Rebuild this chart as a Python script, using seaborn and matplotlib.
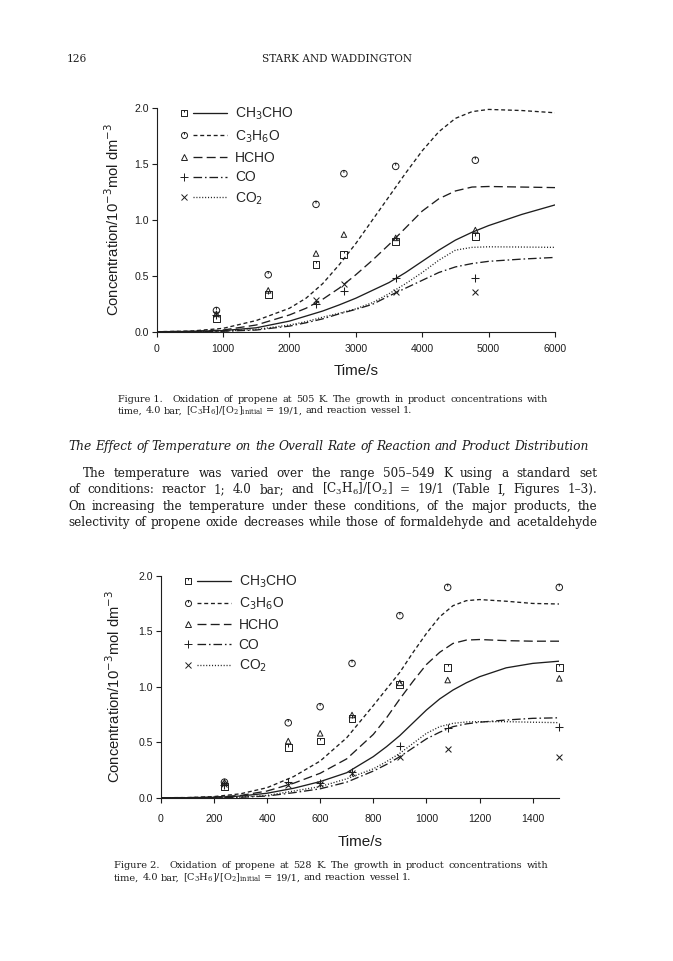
import numpy as np
import pandas as pd
import matplotlib
matplotlib.use("Agg")
import matplotlib.pyplot as plt
import seaborn as sns
from matplotlib.lines import Line2D
from matplotlib.path import Path
from matplotlib.legend_handler import HandlerBase
from matplotlib.ticker import FormatStrFormatter

# ------------------------------------------------------------------ data
species = ["CH3CHO", "C3H6O", "HCHO", "CO", "CO2"]
species_labels = ["CH$_3$CHO", "C$_3$H$_6$O", "HCHO", "CO", "CO$_2$"]

# Figure 1 (505 K): measured points
f1_t_pts = [900, 1680, 2400, 2820, 3600, 4800]
f1_ch3cho_pts = [0.12, 0.33, 0.60, 0.69, 0.81, 0.85]
f1_c3h6o_pts = [0.19, 0.51, 1.14, 1.415, 1.48, 1.535]
f1_hcho_pts = [0.16, 0.37, 0.70, 0.87, 0.84, 0.91]
f1_co_pts = [0.15, np.nan, 0.245, 0.36, 0.48, 0.485]
f1_co2_pts = [0.16, np.nan, 0.285, 0.43, 0.355, 0.355]

# Figure 1: model curves
f1_t_fit = [0, 500, 1000, 1500, 2000, 2250, 2500, 2750, 3000, 3250, 3500,
            3750, 4000, 4250, 4500, 4750, 5000, 5500, 6000]
f1_ch3cho_fit = [0, 0.002, 0.01, 0.035, 0.095, 0.14, 0.185, 0.24, 0.30, 0.37,
                 0.44, 0.53, 0.63, 0.73, 0.82, 0.89, 0.95, 1.05, 1.135]
f1_c3h6o_fit = [0, 0.005, 0.03, 0.10, 0.21, 0.30, 0.43, 0.60, 0.79, 1.00,
                1.21, 1.42, 1.62, 1.79, 1.91, 1.97, 1.99, 1.98, 1.96]
f1_hcho_fit = [0, 0.003, 0.015, 0.06, 0.15, 0.21, 0.29, 0.39, 0.51, 0.64,
               0.78, 0.93, 1.08, 1.19, 1.26, 1.295, 1.30, 1.295, 1.29]
f1_co_fit = [0, 0.001, 0.004, 0.015, 0.05, 0.08, 0.115, 0.16, 0.20, 0.245,
             0.32, 0.39, 0.46, 0.53, 0.58, 0.61, 0.63, 0.65, 0.665]
f1_co2_fit = [0, 0.001, 0.005, 0.02, 0.06, 0.09, 0.13, 0.165, 0.205, 0.26,
              0.34, 0.43, 0.53, 0.64, 0.73, 0.755, 0.76, 0.758, 0.755]

# Figure 2 (528 K): measured points
f2_t_pts = [240, 480, 600, 720, 900, 1080, 1500]
f2_ch3cho_pts = [0.10, 0.45, 0.51, 0.71, 1.02, 1.175, 1.175]
f2_c3h6o_pts = [0.14, 0.675, 0.82, 1.21, 1.64, 1.895, 1.895]
f2_hcho_pts = [0.14, 0.51, 0.58, 0.745, 1.035, 1.06, 1.075]
f2_co_pts = [0.11, 0.145, 0.13, 0.235, 0.465, 0.625, 0.64]
f2_co2_pts = [0.12, 0.115, 0.125, 0.225, 0.37, 0.44, 0.37]

# Figure 2: model curves
f2_t_fit = [0, 100, 200, 300, 400, 500, 600, 700, 800, 850, 900, 950, 1000,
            1050, 1100, 1150, 1200, 1300, 1400, 1500]
f2_ch3cho_fit = [0, 0.0, 0.003, 0.015, 0.04, 0.085, 0.145, 0.225, 0.37, 0.46,
                 0.56, 0.675, 0.79, 0.89, 0.97, 1.035, 1.09, 1.17, 1.21, 1.23]
f2_c3h6o_fit = [0, 0.001, 0.01, 0.035, 0.09, 0.19, 0.33, 0.54, 0.83, 0.98,
                1.13, 1.31, 1.48, 1.63, 1.73, 1.775, 1.785, 1.77, 1.75, 1.745]
f2_hcho_fit = [0, 0.001, 0.005, 0.02, 0.06, 0.13, 0.22, 0.35, 0.57, 0.72,
               0.89, 1.05, 1.20, 1.31, 1.39, 1.42, 1.425, 1.415, 1.41, 1.41]
f2_co_fit = [0, 0.0, 0.001, 0.004, 0.015, 0.045, 0.08, 0.14, 0.24, 0.30,
             0.37, 0.45, 0.53, 0.59, 0.64, 0.665, 0.68, 0.70, 0.715, 0.72]
f2_co2_fit = [0, 0.0, 0.002, 0.006, 0.02, 0.06, 0.10, 0.17, 0.26, 0.325,
              0.40, 0.49, 0.58, 0.64, 0.67, 0.682, 0.685, 0.685, 0.68, 0.676]

f1_xticks = [0, 1000, 2000, 3000, 4000, 5000, 6000]
f2_xticks = [0, 200, 400, 600, 800, 1000, 1200, 1400]
yticks = [0.0, 0.5, 1.0, 1.5, 2.0]

caption1 = ["Figure\u00a01.", "Oxidation of propene at 505 K. The growth in product concentrations with",
            "time, 4.0 bar, [C$_3$H$_6$]/[O$_2$]$_{\\mathrm{initial}}$ = 19/1, and reaction vessel 1."]
caption2 = ["Figure\u00a02.", "Oxidation of propene at 528 K. The growth in product concentrations with",
            "time, 4.0 bar, [C$_3$H$_6$]/[O$_2$]$_{\\mathrm{initial}}$ = 19/1, and reaction vessel 1."]
heading = "The Effect of Temperature on the Overall Rate of Reaction and Product Distribution"
paragraph = [
    "The temperature was varied over the range 505\u2013549 K using a standard set",
    "of conditions: reactor 1; 4.0 bar; and [C$_3$H$_6$]/[O$_2$] = 19/1 (Table I, Figures 1\u20133).",
    "On increasing the temperature under these conditions, of the major products, the",
    "selectivity of propene oxide decreases while those of formaldehyde and acetaldehyde",
]
page_no = "126"
running_head = "STARK AND WADDINGTON"

# ------------------------------------------------------------------ style
sns.set_theme(style="ticks")
plt.rcParams["font.family"] = ["Liberation Sans", "DejaVu Sans"]
plt.rcParams["axes.linewidth"] = 0.8

INK = "#1e1e1e"
SERIF = "DejaVu Serif"

sq_marker = Path([(-1, -1), (1, -1), (1, 1), (-1, 1), (-1, -1), (0, 1), (0, 0.35)],
                 [Path.MOVETO, Path.LINETO, Path.LINETO, Path.LINETO, Path.CLOSEPOLY,
                  Path.MOVETO, Path.LINETO])
circ_marker = Path.make_compound_path(Path.unit_circle(),
                                      Path([(0, 1), (0, 0.25)], [Path.MOVETO, Path.LINETO]))

styles = {
    "CH3CHO": dict(ls="-", marker=sq_marker, s=24, ms=4.6, filled=True),
    "C3H6O": dict(ls=(0, (3.0, 2.1)), marker=circ_marker, s=22, ms=4.4, filled=True),
    "HCHO": dict(ls=(0, (6.8, 3.2)), marker="^", s=16, ms=3.8, filled=True),
    "CO": dict(ls=(0, (6.5, 2.2, 1.2, 2.2)), marker="+", s=30, ms=5.4, filled=False),
    "CO2": dict(ls=(0, (0.8, 1.4)), marker="x", s=18, ms=4.0, filled=False),
}

W, H = 673, 961
fig = plt.figure(figsize=(W / 100, H / 100), dpi=100)
fig.patch.set_facecolor("white")


def px_rect(l, t, r, b):
    return [l / W, 1 - b / H, (r - l) / W, (b - t) / H]


class MarkerThenLine(HandlerBase):
    def __init__(self, spec):
        super().__init__()
        self.spec = spec

    def create_artists(self, legend, orig_handle, xdescent, ydescent, width, height,
                       fontsize, trans):
        sp = self.spec
        x0 = -xdescent
        y = (height - ydescent) / 2.0
        ln = Line2D([x0 + 0.29 * width, x0 + width], [y, y], color=INK, lw=0.95,
                    linestyle=sp["ls"])
        if sp["filled"]:
            mk = Line2D([x0 + 0.10 * width], [y], linestyle="none", marker=sp["marker"],
                        ms=sp["ms"], mfc="none", mec=INK, mew=0.7)
        else:
            mk = Line2D([x0 + 0.10 * width], [y], linestyle="none", marker=sp["marker"],
                        ms=sp["ms"], color=INK, mew=0.7)
        ln.set_transform(trans)
        mk.set_transform(trans)
        return [mk, ln]


def draw_panel(ax, t_fit, fits, t_pts, pts, xmax, xticks, xpad, xlabelpad, ylabelpad, anchor):
    for key in species:
        sp = styles[key]
        sns.lineplot(x=t_fit, y=fits[key], ax=ax, color=INK, lw=0.95,
                     linestyle=sp["ls"], legend=False)
    for key in species:
        sp = styles[key]
        y = pd.Series(pts[key], dtype=float)
        if sp["filled"]:
            sns.scatterplot(x=t_pts, y=y, ax=ax, marker=sp["marker"], s=sp["s"],
                            facecolor="none", edgecolor=INK, linewidth=0.7,
                            clip_on=False, zorder=4, legend=False)
        else:
            sns.scatterplot(x=t_pts, y=y, ax=ax, marker=sp["marker"], s=sp["s"],
                            color=INK, linewidth=0.75, clip_on=False, zorder=4,
                            legend=False)
    ax.set_xlim(0, xmax)
    ax.set_ylim(0, 2.0)
    ax.set_xticks(xticks)
    ax.set_yticks(yticks)
    ax.yaxis.set_major_formatter(FormatStrFormatter("%.1f"))
    sns.despine(ax=ax)
    for s in ("left", "bottom"):
        ax.spines[s].set_color(INK)
        ax.spines[s].set_linewidth(0.8)
    ax.tick_params(axis="both", direction="out", length=3.5, width=0.8,
                   color=INK, labelcolor=INK, labelsize=7.6)
    ax.tick_params(axis="y", pad=2.2)
    ax.tick_params(axis="x", pad=xpad)
    ax.set_facecolor("white")
    ax.set_xlabel("Time/s", fontsize=11, color=INK, labelpad=xlabelpad)
    ax.set_ylabel("Concentration/10$^{-3}$mol dm$^{-3}$", fontsize=10.6, color=INK,
                  labelpad=ylabelpad)
    proxies = [Line2D([], []) for _ in species]
    hmap = {p: MarkerThenLine(styles[k]) for p, k in zip(proxies, species)}
    ax.legend(proxies, species_labels, handler_map=hmap, loc="upper left",
              bbox_to_anchor=anchor, frameon=False, fontsize=10,
              handlelength=3.46, handletextpad=0.55, labelspacing=0.42,
              borderpad=0, borderaxespad=0)


ax1 = fig.add_axes(px_rect(156.7, 108.3, 555.0, 331.7))
ax2 = fig.add_axes(px_rect(160.7, 575.7, 559.3, 797.7))

fits1 = dict(zip(species, [f1_ch3cho_fit, f1_c3h6o_fit, f1_hcho_fit, f1_co_fit, f1_co2_fit]))
pts1 = dict(zip(species, [f1_ch3cho_pts, f1_c3h6o_pts, f1_hcho_pts, f1_co_pts, f1_co2_pts]))
fits2 = dict(zip(species, [f2_ch3cho_fit, f2_c3h6o_fit, f2_hcho_fit, f2_co_fit, f2_co2_fit]))
pts2 = dict(zip(species, [f2_ch3cho_pts, f2_c3h6o_pts, f2_hcho_pts, f2_co_pts, f2_co2_pts]))

draw_panel(ax1, f1_t_fit, fits1, f1_t_pts, pts1, 6000, f1_xticks, 5.5, 7.0, 9.0,
           (0.0565, 1.01))
draw_panel(ax2, f2_t_fit, fits2, f2_t_pts, pts2, 1500, f2_xticks, 8.0, 8.0, 11.0,
           (0.0557, 1.01))

# ------------------------------------------------------------------ page text
renderer = fig.canvas.get_renderer()


def fx(x):
    return x / W


def fy(y):
    return 1 - y / H


def measure(s, size, style="normal"):
    t = fig.text(0, 0, s, fontsize=size, family=SERIF, style=style,
                 math_fontfamily="dejavuserif")
    w = t.get_window_extent(renderer).width
    t.remove()
    return w


def space_w(size, style="normal"):
    return measure("x x", size, style) - measure("xx", size, style)


def put(s, x, y, size, style="normal", ha="left"):
    fig.text(fx(x), fy(y), s, fontsize=size, family=SERIF, style=style, ha=ha,
             va="baseline", color=INK, math_fontfamily="dejavuserif")


def place_line(words, x0, x1, y, size, style="normal", justify=True, extra_first=0.0):
    ws = [measure(w, size, style) for w in words]
    sp = space_w(size, style)
    if justify and len(words) > 1:
        gap = (x1 - x0 - sum(ws) - extra_first) / (len(words) - 1)
    else:
        gap = sp
    x = x0
    for i, (w, wd) in enumerate(zip(words, ws)):
        put(w, x, y, size, style)
        x += wd + gap + (extra_first if i == 0 else 0.0)


def natural_width(words, size, style="normal", extra_first=0.0):
    return sum(measure(w, size, style) for w in words) + space_w(size, style) * (len(words) - 1) + extra_first


# running head
s0 = 10.0
hs = s0 * 150.0 / measure(running_head, s0)
put(page_no, 67, 62, hs)
put(running_head, 337, 62, hs, ha="center")


def caption(cap, x0, x1, y1, y2):
    words1 = [cap[0]] + cap[1].split(" ")
    words2 = cap[2].split(" ")
    base = 7.0
    nat = natural_width(words1, base, extra_first=2 * space_w(base))
    size = base * 0.975 * (x1 - x0) / nat
    ex = 2 * space_w(size)
    place_line(words1, x0, x1, y1, size, extra_first=ex)
    place_line(words2, x0, x1, y2, size, justify=False)


caption(caption1, 118, 548, 401.5, 413.5)
caption(caption2, 114, 548, 868.5, 880.5)

# heading
hw = heading.split(" ")
base = 9.0
hsize = base * 520.0 / natural_width(hw, base, "italic")
place_line(hw, 68, 588, 450.5, hsize, style="italic", justify=False)

# paragraph (justified)
starts = [83, 68, 68, 68]
base = 9.0
ratios = [natural_width(l.split(" "), base) / (597 - s0_) for l, s0_ in zip(paragraph, starts)]
psize = base / max(ratios) * 0.985
for i, (line, st) in enumerate(zip(paragraph, starts)):
    place_line(line.split(" "), st, 597, 477.0 + 16.3 * i, psize)

fig.savefig("out.png", dpi=100, facecolor="white")
